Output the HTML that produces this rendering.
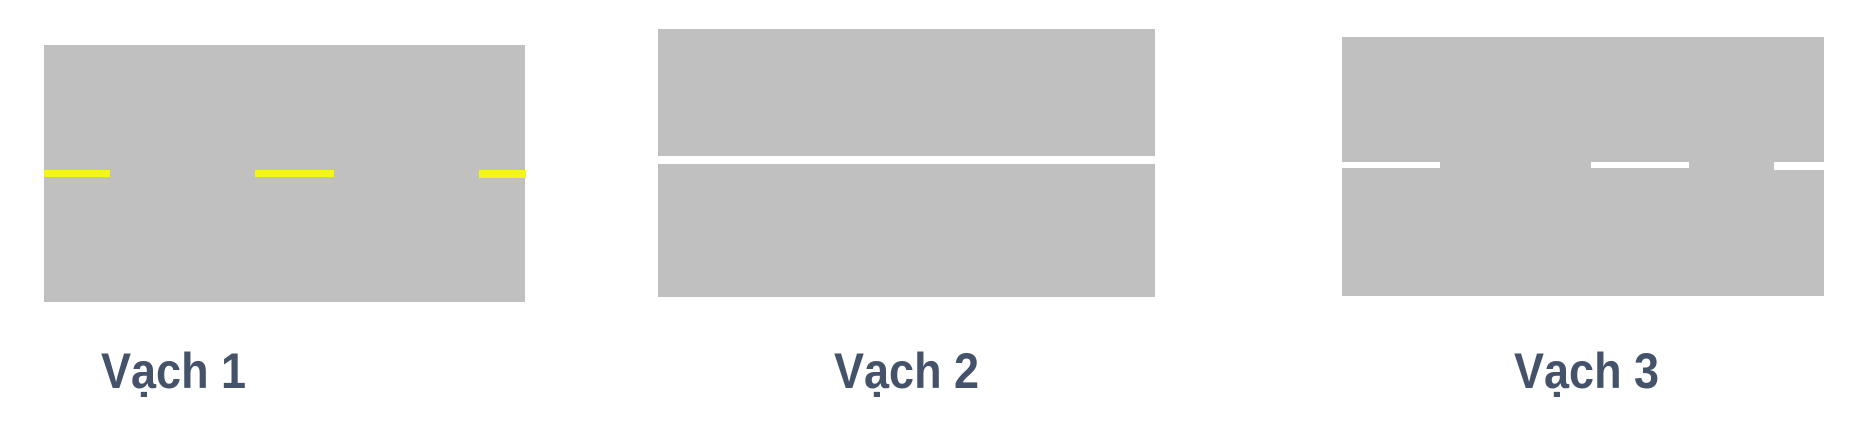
<!DOCTYPE html>
<html><head><meta charset="utf-8"><style>
html,body{margin:0;padding:0;background:#fff;width:1869px;height:423px;overflow:hidden;position:relative}
div{position:absolute}
.road{background:#c0c0c0}
.y{background:#f5f516}
.w{background:#fff}
.lbl{font-family:"Liberation Sans Narrow","Liberation Sans",sans-serif;font-weight:bold;font-size:50px;color:#44526a;line-height:1;white-space:nowrap;transform:scaleX(0.9);transform-origin:0 0}
</style></head><body>
<div class="road" style="left:44px;top:45px;width:481px;height:257px"></div>
<div class="y" style="left:44px;top:170px;width:66px;height:7px"></div>
<div class="y" style="left:255px;top:170px;width:79px;height:7px"></div>
<div class="y" style="left:479px;top:170px;width:47px;height:8px"></div>
<div class="lbl" style="left:101px;top:346px">Vạch 1</div>

<div class="road" style="left:658px;top:29px;width:497px;height:127px"></div>
<div class="road" style="left:658px;top:164px;width:497px;height:133px"></div>
<div class="lbl" style="left:834px;top:346px">Vạch 2</div>

<div class="road" style="left:1342px;top:37px;width:482px;height:259px"></div>
<div class="w" style="left:1342px;top:162px;width:98px;height:6px"></div>
<div class="w" style="left:1591px;top:162px;width:98px;height:6px"></div>
<div class="w" style="left:1774px;top:162px;width:50px;height:8px"></div>
<div class="lbl" style="left:1514px;top:346px">Vạch 3</div>
</body></html>
